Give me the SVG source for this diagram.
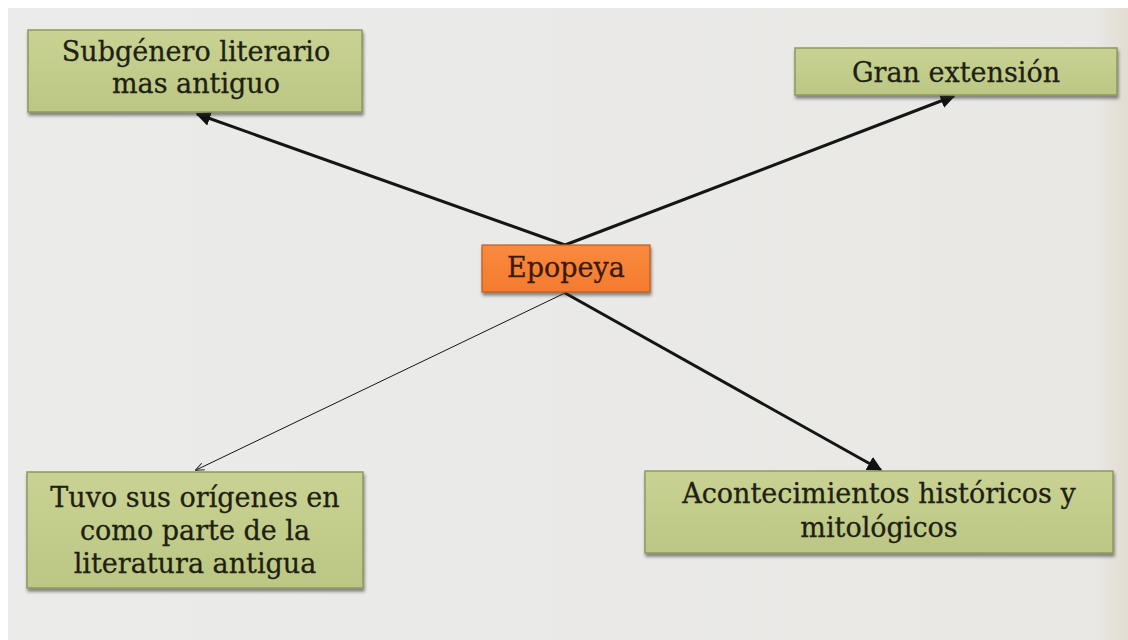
<svg xmlns="http://www.w3.org/2000/svg" width="1128" height="640" viewBox="0 0 1128 640">
<defs>
<linearGradient id="bg" x1="0" y1="0" x2="1" y2="0">
<stop offset="0" stop-color="#ebebe9"/>
<stop offset="0.97" stop-color="#e9e8e5"/>
<stop offset="1" stop-color="#e2dcd2"/>
</linearGradient>
<linearGradient id="green" x1="0" y1="0" x2="0" y2="1">
<stop offset="0" stop-color="#c9d292"/>
<stop offset="1" stop-color="#bcc784"/>
</linearGradient>
<linearGradient id="orange" x1="0" y1="0" x2="0" y2="1">
<stop offset="0" stop-color="#f98a3e"/>
<stop offset="1" stop-color="#f47b2e"/>
</linearGradient>
<filter id="sh" x="-10%" y="-10%" width="120%" height="130%">
<feDropShadow dx="1" dy="3" stdDeviation="1.5" flood-color="#333" flood-opacity="0.55"/>
</filter>
<marker id="ah" viewBox="0 0 10 10" refX="9" refY="5" markerWidth="5" markerHeight="5" orient="auto" markerUnits="strokeWidth">
<path d="M0,0 L10,5 L0,10 z" fill="#111"/>
</marker>
<marker id="ahs" viewBox="0 0 10 10" refX="9" refY="5" markerWidth="9" markerHeight="9" orient="auto" markerUnits="strokeWidth">
<path d="M0,1 L10,5 L0,9" fill="none" stroke="#333" stroke-width="1.2"/>
</marker>
</defs>
<style>
.g{fill:url(#green);stroke:#8c9a5c;stroke-width:1.5;filter:url(#sh)}
.o{fill:url(#orange);stroke:#c05a1c;stroke-width:1.2;filter:url(#sh)}
.t{font-family:"DejaVu Serif","Liberation Serif",serif;font-size:27px;fill:#1f1f12;stroke:#1f1f12;stroke-width:0.3;text-anchor:middle}
.c{stroke:#151515;fill:none}
</style>
<rect width="1128" height="640" fill="#ffffff"/>
<rect x="8" y="8" width="1120" height="632" fill="url(#bg)"/>
<g id="connectors">
<line class="c" x1="565" y1="245" x2="197" y2="114" stroke-width="3" marker-end="url(#ah)"/>
<line class="c" x1="565" y1="245" x2="954" y2="96" stroke-width="3" marker-end="url(#ah)"/>
<line class="c" x1="565" y1="293" x2="881" y2="470" stroke-width="3" marker-end="url(#ah)"/>
<line class="c" x1="565" y1="293" x2="196" y2="470" stroke-width="1" stroke="#333" marker-end="url(#ahs)"/>
</g>
<g id="node-subgenero">
<rect class="g" x="28" y="30" width="334" height="82"/>
<text class="t" x="196" y="61">Subgénero literario</text>
<text class="t" x="196" y="93">mas antiguo</text>
</g>
<g id="node-gran">
<rect class="g" x="795" y="48" width="322" height="47"/>
<text class="t" x="956" y="82">Gran extensión</text>
</g>
<g id="node-epopeya">
<rect class="o" x="482" y="245" width="168" height="47"/>
<text class="t" x="566" y="277" style="fill:#3a1a0a;stroke:#3a1a0a">Epopeya</text>
</g>
<g id="node-tuvo">
<rect class="g" x="27" y="472" width="336" height="116"/>
<text class="t" x="195" y="507">Tuvo sus orígenes en</text>
<text class="t" x="195" y="540">como parte de la</text>
<text class="t" x="195" y="573">literatura antigua</text>
</g>
<g id="node-acontecimientos">
<rect class="g" x="645" y="471" width="468" height="82"/>
<text class="t" x="879" y="503">Acontecimientos históricos y</text>
<text class="t" x="879" y="537">mitológicos</text>
</g>
</svg>
